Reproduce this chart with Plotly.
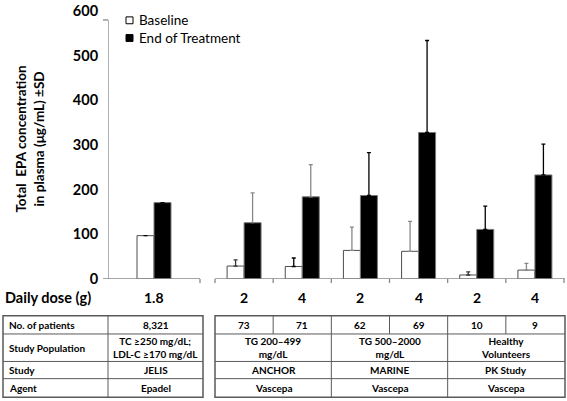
import plotly.graph_objects as go

# ---------------- data ----------------
doses = ["1.8", "2", "4", "2", "4", "2", "4"]
baseline = [97, 29, 28, 64, 62, 9, 20]
eot = [171, 126, 184, 187, 328, 111, 233]
baseline_sd = [None, 14, 19, 52, 67, 7, 15]
eot_sd = [None, 67, 72, 96, 206, 52, 69]

y_ticks = [0, 100, 200, 300, 400, 500, 600]
row_labels = ["No. of patients", "Study Population", "Study", "Agent"]
patients = ["8,321", "73", "71", "62", "69", "10", "9"]
populations = ["TC ≥250 mg/dL;<br>LDL-C ≥170 mg/dL", "TG 200–499<br>mg/dL",
               "TG 500–2000<br>mg/dL", "Healthy<br>Volunteers"]
studies = ["JELIS", "ANCHOR", "MARINE", "PK Study"]
agents = ["Epadel", "Vascepa", "Vascepa", "Vascepa"]
study_groups = [[0], [1, 2], [3, 4], [5, 6]]

# ---------------- styles / layout ----------------
W, H = 567, 401
L, R, T, B = 108, 2, 6, 122
PW, PH = W - L - R, H - T - B
FONT = "Lato"
AX = "#878787"
GRID = "#5a5a5a"
# error bar colours per bar
base_err_col = ["#000", "#333", "#000", "#888", "#888", "#333", "#888"]
eot_err_col = ["#000", "#888", "#888", "#000", "#000", "#000", "#000"]

# group geometry (pixel units along x, measured from plot left)
seg1 = (0, 92)
seg2_start = 107
gw = (PW - 1 - seg2_start) / 6.0
bounds = [(seg1[0], seg1[1])] + [(seg2_start + i * gw, seg2_start + (i + 1) * gw) for i in range(6)]
centers = [(a + b) / 2 for a, b in bounds]
BW = 17


def px(x):
    return (x - L) / PW


def py(y):
    return (H - B - y) / PH


fig = go.Figure()


def add_bars(vals, sds, errcols, offset, fill, line, name):
    for col in sorted(set(errcols)):
        idx = [i for i in range(len(vals)) if errcols[i] == col]
        fig.add_trace(go.Bar(
            x=[centers[i] for i in idx], y=[vals[i] for i in idx],
            width=BW, offset=offset, name=name, showlegend=False,
            marker=dict(color=fill, line=dict(color=line, width=1)),
            error_y=dict(type="data", symmetric=False,
                         array=[sds[i] for i in idx],
                         arrayminus=[0 for _ in idx],
                         color=col, thickness=1.3, width=2),
        ))


add_bars(baseline, baseline_sd, base_err_col, -BW, "white", "#4d4d4d", "Baseline")
add_bars(eot, eot_sd, eot_err_col, 0, "black", "#7a7a7a", "End of Treatment")

shapes = []
# y axis line + top tick
shapes.append(dict(type="line", xref="x", yref="y", x0=0, x1=0, y0=0, y1=580,
                   line=dict(color=AX, width=1.3)))
shapes.append(dict(type="line", xref="paper", yref="y", x0=px(103), x1=px(108), y0=580, y1=580,
                   line=dict(color=AX, width=1.3)))
# x axis segments
shapes.append(dict(type="line", xref="paper", yref="y", x0=px(103), x1=px(L + seg1[1]), y0=0, y1=0,
                   line=dict(color=AX, width=1.3)))
shapes.append(dict(type="line", xref="x", yref="y", x0=seg2_start, x1=PW, y0=0, y1=0,
                   line=dict(color=AX, width=1.3)))
tick_x = [seg1[1]] + [seg2_start + i * gw for i in range(7)]
for tx in tick_x:
    shapes.append(dict(type="line", xref="x", yref="paper", x0=tx, x1=tx, y0=py(279), y1=py(283),
                       line=dict(color=AX, width=1.3)))

annotations = []
# legend
shapes.append(dict(type="rect", xref="paper", yref="paper", x0=px(126), x1=px(133), y0=py(19), y1=py(12),
                   line=dict(color="black", width=1), fillcolor="white"))
shapes.append(dict(type="rect", xref="paper", yref="paper", x0=px(126), x1=px(133), y0=py(37), y1=py(30),
                   line=dict(color="black", width=1), fillcolor="black"))
annotations.append(dict(text="Baseline", xref="paper", yref="paper", x=px(137), y=py(15.5),
                        xanchor="left", yanchor="middle", showarrow=False,
                        font=dict(family=FONT, size=13.5, color="black")))
annotations.append(dict(text="End of Treatment", xref="paper", yref="paper", x=px(137), y=py(33.5),
                        xanchor="left", yanchor="middle", showarrow=False,
                        font=dict(family=FONT, size=13.5, color="black")))
# y title
annotations.append(dict(text="<b>Total  EPA concentration<br>in plasma (μg/mL) ±SD</b>",
                        xref="paper", yref="paper", x=px(30), y=py(137), textangle=-90,
                        xanchor="center", yanchor="middle", showarrow=False,
                        font=dict(family=FONT, size=13.5, color="black")))
# dose row
annotations.append(dict(text="<b>Daily dose (g)</b>", xref="paper", yref="paper", x=px(3), y=py(298),
                        xanchor="left", yanchor="middle", showarrow=False,
                        font=dict(family=FONT, size=14.5, color="black")))
for c, d in zip(centers, doses):
    annotations.append(dict(text="<b>" + d + "</b>", xref="x", yref="paper", x=c, y=py(298),
                            xanchor="center", yanchor="middle", showarrow=False,
                            font=dict(family=FONT, size=14, color="black")))

# tables
rows_y = [316.5, 335, 363, 380.5, 399.5]
row_c = [(rows_y[i] + rows_y[i + 1]) / 2 for i in range(4)]
tfont = dict(family=FONT, size=10, color="black")
lt_x0, lt_x1, lt_div = 3, 203, 108
rt_x0, rt_x1 = L + seg2_start, L + PW


def hline(xa, xb, y, w=1):
    shapes.append(dict(type="line", xref="paper", yref="paper", x0=px(xa), x1=px(xb), y0=py(y), y1=py(y),
                       line=dict(color=GRID, width=w)))


def vline(x, ya, yb, w=1):
    shapes.append(dict(type="line", xref="paper", yref="paper", x0=px(x), x1=px(x), y0=py(ya), y1=py(yb),
                       line=dict(color=GRID, width=w)))


for (xa, xb) in [(lt_x0, lt_x1), (rt_x0, rt_x1)]:
    shapes.append(dict(type="rect", xref="paper", yref="paper", x0=px(xa), x1=px(xb),
                       y0=py(rows_y[-1]), y1=py(rows_y[0]), line=dict(color=GRID, width=1.5)))
    for ry in rows_y[1:-1]:
        hline(xa, xb, ry)
vline(lt_div, rows_y[0], rows_y[-1])

col_px = [(L + a, L + b) for a, b in bounds]
# patient column dividers in first row
for i in range(2, 7):
    vline(col_px[i][0], rows_y[0], rows_y[1])
# study dividers in rows 2-4
for g in study_groups[2:]:
    vline(col_px[g[0]][0], rows_y[1], rows_y[-1])


def txt(s, x, y, anchor="center"):
    annotations.append(dict(text="<b>" + s + "</b>", xref="paper", yref="paper", x=px(x), y=py(y),
                            xanchor=anchor, yanchor="middle", showarrow=False, font=tfont))


for lab, cy in zip(row_labels, row_c):
    txt(lab, 7, cy, "left")
txt(patients[0], (lt_div + lt_x1) / 2, row_c[0])
for i in range(1, 7):
    txt(patients[i], (col_px[i][0] + col_px[i][1]) / 2, row_c[0])
for k, g in enumerate(study_groups):
    if k == 0:
        cx = (lt_div + lt_x1) / 2
    else:
        cx = (col_px[g[0]][0] + col_px[g[-1]][1]) / 2
    txt(populations[k], cx, row_c[1])
    txt(studies[k], cx, row_c[2])
    txt(agents[k], cx, row_c[3])

fig.update_layout(
    width=W, height=H, margin=dict(l=L, r=R, t=T, b=B),
    paper_bgcolor="white", plot_bgcolor="white",
    showlegend=False, bargap=0,
    xaxis=dict(range=[0, PW], visible=False, fixedrange=True),
    yaxis=dict(range=[0, 600], tickvals=y_ticks, showgrid=False, zeroline=False, showline=False,
               ticks="outside", ticklen=6, tickcolor="rgba(0,0,0,0)", ticklabeloverflow="allow",
               tickfont=dict(family=FONT, size=14.5, color="black", weight="bold"),
               fixedrange=True),
    shapes=shapes, annotations=annotations,
    font=dict(family=FONT),
)

fig.write_html("out.html", config={"displayModeBar": False, "staticPlot": True},
               post_script="document.body.style.margin='0px';")
